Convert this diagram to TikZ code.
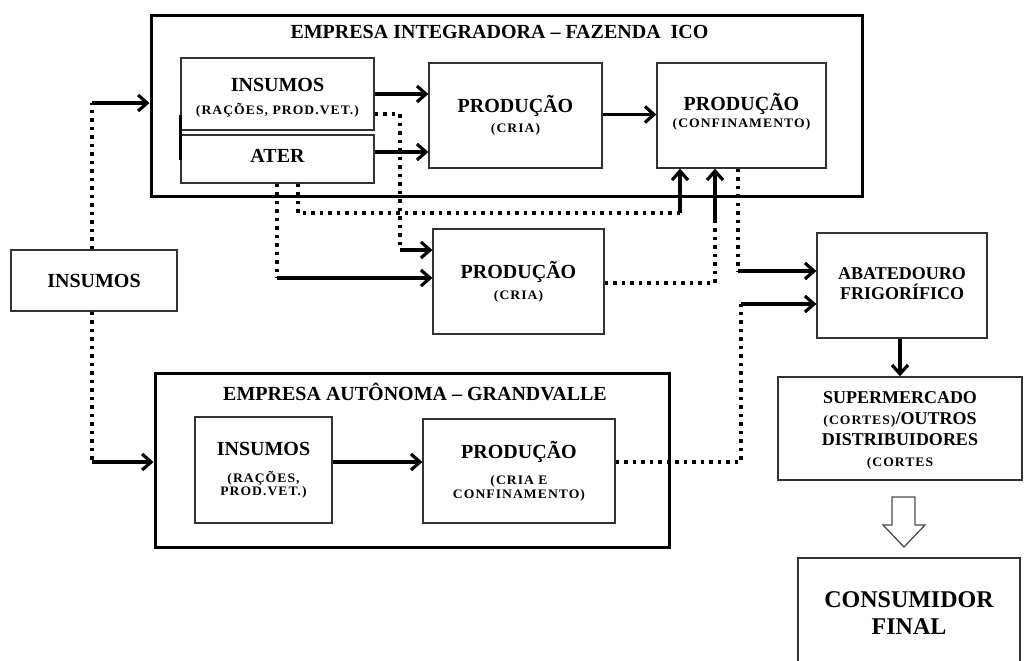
\documentclass[tikz,border=0pt]{standalone}
\usepackage{fontspec}
\setmainfont{Liberation Serif}
\newfontfamily\miudo{Liberation Serif}[LetterSpace=8, FakeStretch=1.05]
\usetikzlibrary{positioning,arrows.meta}

\tikzset{
  caixa/.style={draw=black!80, line width=1.3pt, align=center, inner sep=0pt,
    font=\bfseries\fontsize{20}{23}\selectfont},
  empresa/.style={draw, line width=3pt, inner sep=0pt},
  titulo/.style={font=\bfseries\fontsize{20}{22}\selectfont},
  seta/.style={line width=3.2pt, -{Straight Barb[length=9pt,width=16pt]}},
  ponto/.style={line width=3.5pt, dash pattern=on 3.5pt off 5pt},
  oca/.style={draw=black!70, line width=1.3pt, fill=white}
}
\newcommand{\peq}[1]{{\miudo\bfseries\fontsize{13}{14}\selectfont #1}}

\begin{document}
\begin{tikzpicture}[x=1pt,y=-1pt]
  \useasboundingbox (0,0) rectangle (1025,661);

  % empresa integradora
  \node[empresa, minimum width=711pt, minimum height=180pt] (integ) at (506.5,106) {};
  \node[titulo] (tinteg) at (499.5,32) {EMPRESA INTEGRADORA -- FAZENDA\ \ ICO};
  \node[caixa, minimum width=193pt, minimum height=72pt] (insA) at (277.5,94)
    {INSUMOS\rule{0pt}{21pt}\\[0pt]\peq{(RAÇÕES, PROD.VET.)}};
  \node[caixa, minimum width=193pt, minimum height=48pt, text depth=7pt] (ater) at (277.5,159) {ATER};
  \node[caixa, minimum width=173pt, minimum height=105pt] (criaA) at (515.5,115.5)
    {PRODUÇÃO\\[-3pt]\peq{(CRIA)}};
  \node[caixa, minimum width=169pt, minimum height=105pt] (conf) at (741.5,115.5)
    {PRODUÇÃO\\[-6pt]\peq{(CONFINAMENTO)}\rule[-10pt]{0pt}{10pt}};
  \draw[line width=2.5pt] ([yshift=-21pt]insA.west) -- ([yshift=-1pt]ater.west);

  % produção externa e insumos
  \node[caixa, minimum width=171pt, minimum height=105pt] (criaB) at (518.5,281.5)
    {PRODUÇÃO\\[-2pt]\peq{(CRIA)}\rule[-3pt]{0pt}{3pt}};
  \node[caixa, minimum width=166pt, minimum height=61pt] (insL) at (94,280.5) {INSUMOS};

  % empresa autonoma
  \node[empresa, minimum width=514pt, minimum height=174pt] (grand) at (412,460) {};
  \node[titulo] (tgrand) at (415,392) {EMPRESA AUTÔNOMA -- GRANDVALLE};
  \node[caixa, minimum width=137pt, minimum height=106pt] (insG) at (263.5,470)
    {INSUMOS\\[4pt]\peq{(RAÇÕES,}\\[-10pt]\peq{PROD.VET.)}};
  \node[caixa, minimum width=192pt, minimum height=104pt] (prodG) at (519,471)
    {PRODUÇÃO\\[3pt]\peq{(CRIA E}\\[-9pt]\peq{CONFINAMENTO)}};

  % cadeia final
  \node[caixa, minimum width=170pt, minimum height=105pt, font=\bfseries\fontsize{18}{20}\selectfont]
    (abat) at (902,285.5) {ABATEDOURO\\FRIGORÍFICO\\[-16pt]};
  \node[caixa, minimum width=244pt, minimum height=103pt, font=\bfseries\fontsize{18}{21}\selectfont]
    (super) at (900,428.5) {SUPERMERCADO\rule{0pt}{16pt}\\\peq{(CORTES)}/OUTROS\\DISTRIBUIDORES\\\peq{(CORTES}};
  \node[caixa, minimum width=222pt, minimum height=110pt, font=\bfseries\fontsize{24}{27}\selectfont]
    (cons) at (909,613) {CONSUMIDOR\\FINAL};

  % entradas de insumos
  \coordinate (c1) at (92,103);
  \coordinate (c2) at (92,462);
  \draw[ponto] (insL.north -| c1) -- (c1);
  \draw[seta] (c1) -- (integ.west |- c1);
  \draw[ponto] (insL.south -| c2) -- (c2);
  \draw[seta] (c2) -- (grand.west |- c2);

  % fluxos internos
  \draw[seta] (insA.east) -- (insA.east -| criaA.west);
  \draw[seta] ([yshift=7pt]ater.east) -- ([yshift=7pt]ater.east -| criaA.west);
  \draw[seta] ([yshift=1pt]criaA.east) -- ([yshift=1pt]criaA.east -| conf.west);
  \draw[seta] (insG.east |- c2) -- (prodG.west |- c2);

  % fluxos pontilhados
  \coordinate (d1) at (400,250);
  \draw[ponto] ([yshift=-20pt]insA.east) -| (d1);
  \draw[seta] (d1) -- (d1 -| criaB.west);
  \coordinate (d2) at (277,278);
  \draw[ponto] (ater.south -| d2) -- (d2);
  \draw[seta] (d2) -- (d2 -| criaB.west);
  \coordinate (d3a) at (298,213);
  \coordinate (d3) at (680,213);
  \draw[ponto] (ater.south -| d3a) -- (d3a) -- (d3);
  \draw[seta] (d3) -- (d3 |- conf.south);
  \coordinate (d4) at (715,222);
  \draw[ponto] ([yshift=-1.5pt]criaB.east) -| (d4);
  \draw[seta] (d4) -- (d4 |- conf.south);
  \coordinate (d5) at (738,271);
  \draw[ponto] (conf.south -| d5) -- (d5);
  \draw[seta] (d5) -- (d5 -| abat.west);
  \coordinate (d6) at (741,304);
  \draw[ponto] ([yshift=9pt]prodG.east) -| (d6);
  \draw[seta] (d6) -- (d6 -| abat.west);

  \draw[seta] (super.north |- abat.south) -- (super.north);
  % seta vazada
  \draw[oca] (892,497) -- (892,525) -- (883,525) -- (904,547) -- (925,525)
    -- (915,525) -- (915,497) -- cycle;
\end{tikzpicture}
\end{document}
